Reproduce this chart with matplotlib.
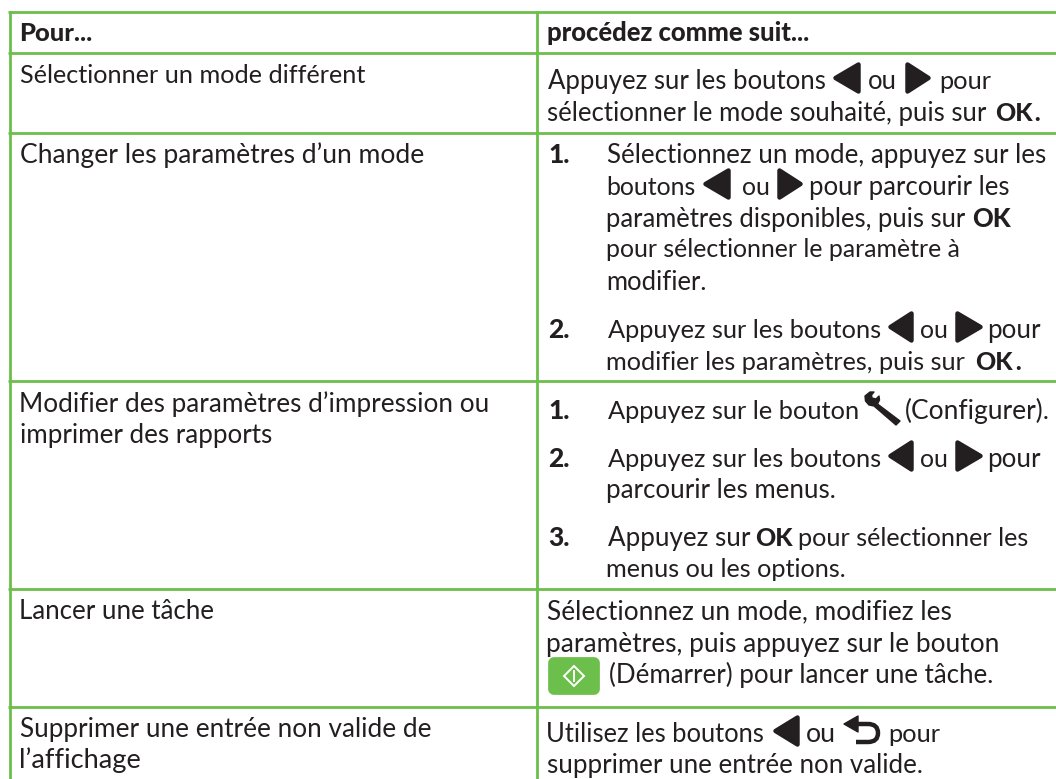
import matplotlib
matplotlib.use("Agg")
import matplotlib.pyplot as plt
from matplotlib.patches import FancyBboxPatch, PathPatch, Polygon
from matplotlib.path import Path
from matplotlib.textpath import TextPath
from matplotlib.font_manager import FontProperties

# ---- content ----
header_left = "Pour..."
header_right = "procédez comme suit..."
left_texts = ["Sélectionner un mode différent", "Changer les paramètres d’un mode",
              "Modifier des paramètres d’impression ou", "imprimer des rapports",
              "Lancer une tâche", "Supprimer une entrée non valide de", "l’affichage"]
ok_label = "OK"
numbers = ["1.", "2.", "1.", "2.", "3."]
press = "Appuyez sur les boutons"
ou = "ou"
pour = "pour"
sur_le_bouton = "Appuyez sur le bouton"
configurer = "(Configurer)."
r1_line2 = "sélectionner le mode souhaité, puis sur"
r2_lines = ["Sélectionnez un mode, appuyez sur les", "boutons", "pour parcourir les",
            "paramètres disponibles, puis sur", "pour sélectionner le paramètre à",
            "modifier.", "modifier les paramètres, puis sur"]
r3_lines = ["parcourir les menus.", "Appuyez sur", "pour sélectionner les",
            "menus ou les options."]
r4_lines = ["Sélectionnez un mode, modifiez les", "paramètres, puis appuyez sur le bouton",
            "(Démarrer) pour lancer une tâche."]
r5_lines = ["Utilisez les boutons", "supprimer une entrée non valide."]

GREEN = "#6CBF4B"
INK = "#231F20"
W, H = 1056, 779

fig = plt.figure(figsize=(W / 100, H / 100), dpi=100, facecolor="white")
ax = fig.add_axes([0, 0, 1, 1])
ax.set_xlim(0, W)
ax.set_ylim(H, 0)
ax.axis("off")

# ---- table rules ----
for y in [11.5, 52.5, 132.5, 381, 588.5, 706.5]:
    ax.plot([8, W], [y, y], color=GREEN, lw=2.0, solid_capstyle="butt")
for x in [9.5, 537]:
    ax.plot([x, x], [10.5, H], color=GREEN, lw=2.0, solid_capstyle="butt")

REG = FontProperties(family="Lato", weight="regular")
BOLD = FontProperties(family="Lato", weight="black")


def put(s, x0, x1, base, bold=False):
    """Draw s from x0 to x1 on the given baseline, choosing the size that fits."""
    fp = BOLD if bold else REG
    bb = TextPath((0, 0), s, size=10, prop=fp).get_extents()
    size_px = 10 * (x1 - x0) / bb.width
    size_pt = size_px * 72 / 100
    ax.text(x0 - bb.x0 * size_px / 10, base, s, fontproperties=fp, fontsize=size_pt,
            color=INK, ha="left", va="baseline")


def num(s, base):
    ax.text(548, base, s, fontproperties=BOLD, fontsize=19, color=INK, ha="left", va="baseline")


def tri(x0, x1, base, left=True):
    cy = base - 11
    h = 13.5
    inset = 2.5
    xa, xb = (x0 + inset, x1 - inset) if left else (x1 - inset, x0 + inset)
    ax.add_patch(Polygon([(xa, cy), (xb, cy - h), (xb, cy + h)], closed=True, fc=INK, ec=INK,
                         lw=3.2, joinstyle="round"))


def wrench(x0, base):
    pts = [(0, 5), (5, 1), (9, 1), (6.5, 4), (7, 7), (11, 8), (14, 5), (14.5, 9), (12.5, 13),
           (35, 30), (31, 34), (9, 15), (4, 14), (0.5, 10)]
    y0 = base - 28
    ax.add_patch(Polygon([(x0 + p, y0 + q) for p, q in pts], closed=True, fc=INK, ec=INK,
                         lw=1, joinstyle="round"))


def back_icon(x0, base):
    y = base - 26
    ax.add_patch(Polygon([(x0, y + 8), (x0 + 14, y), (x0 + 14, y + 16)], closed=True, fc=INK,
                         ec=INK, lw=1, joinstyle="round"))
    verts = [(x0 + 12, y + 8), (x0 + 24, y + 8), (x0 + 34, y + 8), (x0 + 34, y + 17),
             (x0 + 34, y + 26), (x0 + 24, y + 26), (x0 + 12, y + 26)]
    codes = [Path.MOVETO, Path.LINETO, Path.CURVE3, Path.CURVE3, Path.CURVE3, Path.CURVE3, Path.LINETO]
    ax.add_patch(PathPatch(Path(verts, codes), fc="none", ec=INK, lw=3.2, capstyle="butt"))


# ---- left column ----
put(header_left, 21, 91, 41, True)
put(left_texts[0], 21, 366, 83)
put(left_texts[1], 21, 422, 163)
put(left_texts[2], 21, 485, 412)
put(left_texts[3], 21, 270, 443)
put(left_texts[4], 21, 212, 619)
put(left_texts[5], 21, 428, 737)
put(left_texts[6], 21, 140, 768)

# ---- right column ----
put(header_right, 548, 808, 41, True)

# row 1
put(press, 548, 825, 89)
tri(833, 861, 89)
put(ou, 869, 895, 89)
tri(905, 931, 89, False)
put(pour, 941, 991, 89)
put(r1_line2, 548, 985, 121)
put(ok_label, 996, 1033, 121, True)
put(".", 1035, 1039, 121)

# row 2
num(numbers[0], 163)
put(r2_lines[0], 608, 1044, 163)
put(r2_lines[1], 608, 695, 195)
tri(703, 731, 195)
put(ou, 743, 768, 195)
tri(777, 803, 195, False)
put(r2_lines[2], 811, 1008, 195)
put(r2_lines[3], 608, 965, 227)
put(ok_label, 973, 1011, 227, True)
put(r2_lines[4], 608, 958, 257)
put(r2_lines[5], 608, 705, 290)
num(numbers[1], 338)
put(press, 608, 880, 338)
tri(888, 914, 338)
put(ou, 921, 946, 338)
tri(955, 983, 338, False)
put(pour, 989, 1040, 338)
put(r2_lines[6], 608, 965, 370)
put(ok_label, 976, 1013, 370, True)
put(".", 1016, 1020, 370)

# row 3
num(numbers[2], 419)
put(sur_le_bouton, 608, 858, 419)
wrench(865, 419)
put(configurer, 906, 1048, 419)
num(numbers[3], 467)
put(press, 608, 880, 467)
tri(888, 914, 467)
put(ou, 921, 946, 467)
tri(955, 983, 467, False)
put(pour, 989, 1040, 467)
put(r3_lines[0], 608, 833, 498)
num(numbers[4], 546)
put(r3_lines[1], 608, 750, 546)
put(ok_label, 756, 793, 546, True)
put(r3_lines[2], 800, 1028, 546)
put(r3_lines[3], 608, 845, 577)

# row 4
put(r4_lines[0], 548, 950, 619)
put(r4_lines[1], 548, 997, 652)
ax.add_patch(FancyBboxPatch((553, 662), 42, 28, boxstyle="round,pad=0,rounding_size=1",
                            fc=GREEN, ec=GREEN, lw=7, joinstyle="round"))
ax.add_patch(Polygon([(574, 666), (584, 676), (574, 686), (564, 676)], closed=True, fc="none",
                     ec="white", lw=1.4))
ax.plot([574, 574], [671, 681], color="white", lw=1.4)
put(r4_lines[2], 610, 991, 683)

# row 5
put(r5_lines[0], 548, 763, 742)
tri(773, 800, 742)
put(ou, 807, 834, 742)
back_icon(844, 742)
put(pour, 890, 940, 742)
put(r5_lines[1], 548, 920, 773)

fig.savefig("out.png", dpi=100, facecolor="white")
